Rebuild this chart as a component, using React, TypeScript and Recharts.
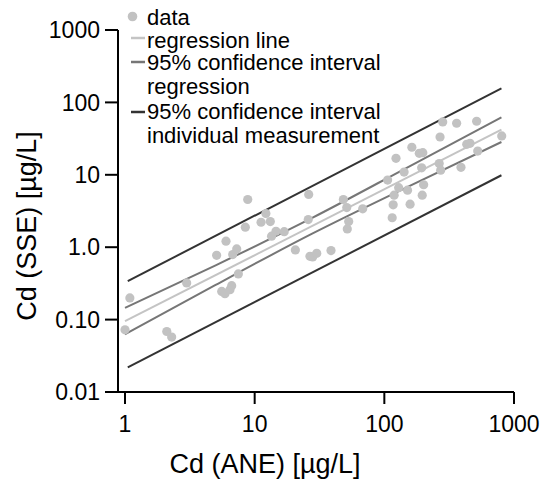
import {
  ComposedChart,
  Scatter,
  Line,
  XAxis,
  YAxis,
  Legend,
  Label,
} from "recharts";

// measured values, Cd (ANE) vs Cd (SSE), µg/L
const aneValues = [
  1.0, 1.09, 2.1, 2.29, 2.99, 5.57, 5.9, 6.45, 6.65, 5.09, 6.01, 6.77, 7.27, 7.48,
  8.47, 8.84, 11.2, 12.2, 13.2, 13.5, 14.6, 16.9, 20.6, 25.9, 26.1, 26.7, 28.0,
  30.1, 38.8, 48.3, 51.3, 53.1, 51.8, 68.1, 106, 115, 117, 119, 123, 129, 142, 151,
  158, 163, 186, 198, 194, 196, 201, 265, 272, 390, 432, 458, 525, 282, 361, 515,
  269, 804,
];
const sseValues = [
  0.0722, 0.199, 0.0685, 0.0573, 0.321, 0.245, 0.228, 0.259, 0.294, 0.773, 1.21,
  0.79, 0.947, 0.427, 1.89, 4.56, 2.21, 2.92, 2.26, 1.42, 1.66, 1.64, 0.918, 2.41,
  5.35, 0.748, 0.734, 0.823, 0.897, 4.56, 3.53, 2.26, 1.79, 3.39, 8.45, 2.55, 3.85,
  5.23, 16.9, 6.63, 10.9, 6.14, 3.93, 24.0, 19.8, 20.2, 12.5, 5.23, 7.29, 14.3,
  11.6, 12.7, 26.4, 27.2, 21.3, 53.7, 51.5, 54.9, 33.3, 34.4,
];

const regX = [1, 800];
const regY = [0.095, 42.1];

const ciRegX = [1, 5, 28, 150, 800];
const ciRegUpper = [0.145, 0.562, 2.56, 12.6, 62.2];
const ciRegLower = [0.0627, 0.302, 1.55, 6.76, 28.4];

const ciIndX = [1.05, 800];
const ciIndUpper = [0.34, 156];
const ciIndLower = [0.0219, 9.86];

const xTicks = [1, 10, 100, 1000];
const yTicks = [0.01, 0.1, 1, 10, 100, 1000];
const yTickLabels = ["0.01", "0.10", "1.0", "10", "100", "1000"];

const toPoints = (xs: number[], ys: number[]) => xs.map((x, i) => ({ x, y: ys[i] }));

const points = toPoints(aneValues, sseValues);
const regLine = toPoints(regX, regY);
const ciRegHi = toPoints(ciRegX, ciRegUpper);
const ciRegLo = toPoints(ciRegX, ciRegLower);
const ciIndHi = toPoints(ciIndX, ciIndUpper);
const ciIndLo = toPoints(ciIndX, ciIndLower);

const FONT = "'Liberation Sans', Arial, Helvetica, sans-serif";
const DOT = "#c2c2c2";
const REG = "#c4c4c4";
const CI_REG = "#767676";
const CI_IND = "#333333";

const tickStyle = { fill: "#000", fontSize: 23, fontFamily: FONT };

function ChartLegend() {
  const text = { fontSize: 22, fontFamily: FONT, fill: "#000" };
  return (
    <svg width={420} height={160} style={{ display: "block" }}>
      <circle cx={132.5} cy={16.5} r={4.8} fill={DOT} />
      <text x={147} y={25} {...text}>data</text>
      <line x1={131} x2={145} y1={38} y2={38} stroke={REG} strokeWidth={2.5} />
      <text x={147} y={47.5} {...text}>regression line</text>
      <line x1={131} x2={145} y1={62} y2={62} stroke={CI_REG} strokeWidth={2.5} />
      <text x={147} y={70} {...text}>95% confidence interval</text>
      <text x={147} y={94} {...text}>regression</text>
      <line x1={131} x2={145} y1={112} y2={112} stroke={CI_IND} strokeWidth={2.5} />
      <text x={147} y={118.5} {...text}>95% confidence interval</text>
      <text x={147} y={143} {...text}>individual measurement</text>
    </svg>
  );
}

export default function App() {
  return (
    <div style={{ position: "absolute", left: 0, top: 0, background: "#fff", fontFamily: FONT }}>
      <ComposedChart width={542} height={487} margin={{ top: 30, right: 28, bottom: 0, left: 0 }}>
        <XAxis
          dataKey="x"
          type="number"
          scale="log"
          domain={[0.883, 1000]}
          allowDataOverflow
          ticks={xTicks}
          tick={tickStyle}
          tickSize={12}
          tickMargin={12}
          height={95}
          stroke="#000"
          strokeWidth={2}
        >
          <Label
            content={({ viewBox }: any) => (
              <text
                x={viewBox.x + viewBox.width / 2 - 51}
                y={473}
                textAnchor="middle"
                fontSize={27}
                fontFamily={FONT}
                fill="#000"
              >
                Cd (ANE) [µg/L]
              </text>
            )}
          />
        </XAxis>
        <YAxis
          dataKey="y"
          type="number"
          scale="log"
          domain={[0.01, 1000]}
          allowDataOverflow
          ticks={yTicks}
          tickFormatter={(v: number) => yTickLabels[yTicks.indexOf(v)] ?? String(v)}
          tick={tickStyle}
          tickSize={13}
          tickMargin={5}
          width={118}
          stroke="#000"
          strokeWidth={2}
        >
          <Label
            content={({ viewBox }: any) => {
              const cx = 27;
              const cy = viewBox.y + viewBox.height / 2 + 15;
              return (
                <text
                  x={cx}
                  y={cy}
                  transform={`rotate(-90 ${cx} ${cy})`}
                  textAnchor="middle"
                  dominantBaseline="central"
                  fontSize={27}
                  fontFamily={FONT}
                  fill="#000"
                >
                  Cd (SSE) [µg/L]
                </text>
              );
            }}
          />
        </YAxis>
        <Legend
          layout="vertical"
          align="center"
          verticalAlign="middle"
          wrapperStyle={{ left: 0, top: 0, width: 420, height: 160 }}
          content={() => <ChartLegend />}
        />
        <Line data={ciIndHi} dataKey="y" stroke={CI_IND} strokeWidth={2} dot={false} isAnimationActive={false} legendType="none" />
        <Line data={ciIndLo} dataKey="y" stroke={CI_IND} strokeWidth={2} dot={false} isAnimationActive={false} legendType="none" />
        <Scatter
          name="data"
          data={points}
          dataKey="y"
          fill={DOT}
          isAnimationActive={false}
          shape={(p: any) => <circle cx={p.cx} cy={p.cy} r={4.6} fill={DOT} />}
        />
        <Line data={ciRegHi} dataKey="y" type="monotone" stroke={CI_REG} strokeWidth={2} dot={false} isAnimationActive={false} legendType="none" />
        <Line data={ciRegLo} dataKey="y" type="monotone" stroke={CI_REG} strokeWidth={2} dot={false} isAnimationActive={false} legendType="none" />
        <Line data={regLine} dataKey="y" stroke={REG} strokeWidth={2} dot={false} isAnimationActive={false} legendType="none" />
      </ComposedChart>
    </div>
  );
}
